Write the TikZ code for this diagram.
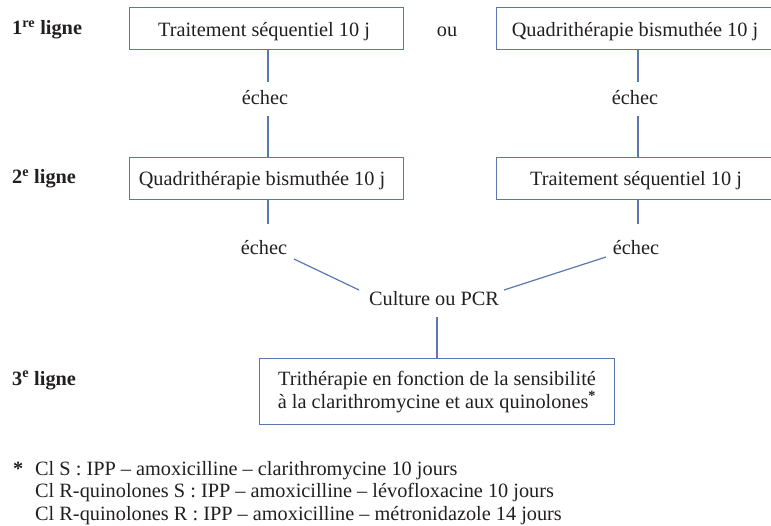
\documentclass[tikz,border=0pt]{standalone}
\usepackage{fontspec}
\setmainfont{Liberation Serif}
\definecolor{edge}{HTML}{5A78B0}
\definecolor{ink}{HTML}{231F20}
\begin{document}
\begin{tikzpicture}[x=1pt,y=-1pt,
  every node/.style={text=ink,font=\fontsize{20.3}{22.5}\selectfont,inner sep=0pt,anchor=base},
  tbox/.style={draw=edge,line width=1.2pt,minimum height=42pt,anchor=north west},
  lab/.style={font=\fontsize{20.3}{22.5}\selectfont\bfseries,anchor=base west},
  link/.style={draw=edge,line width=1.2pt},
  foot/.style={anchor=base west}]
\useasboundingbox (0,0) rectangle (771,526);
\clip (0,0) rectangle (771,526);
% row labels
\node[lab] (l1) at (12,35) {1\textsuperscript{re} ligne};
\node[lab] (l2) at (12,184) {2\textsuperscript{e} ligne};
\node[lab] (l3) at (12,385) {3\textsuperscript{e} ligne};
% boxes
\node[tbox,minimum width=274pt] (b1) at (129,7) {};
\node (t1) at (264,37) {Traitement séquentiel 10 j};
\node (ou) at (447,37) {ou};
\node[tbox,minimum width=282pt] (b2) at (496,7) {};
\node (t2) at (635,37) {Quadrithérapie bismuthée 10 j};
\node[tbox,minimum width=274pt] (b3) at (129,157) {};
\node (t3) at (262,186) {Quadrithérapie bismuthée 10 j};
\node[tbox,minimum width=282pt] (b4) at (496,157) {};
\node (t4) at (636,186) {Traitement séquentiel 10 j};
% echec labels
\node (e1) at (265,105) {échec};
\node (e2) at (635,105) {échec};
\node (e3) at (264,255) {échec};
\node (e4) at (636,255) {échec};
\node (cp) at (434,306) {Culture ou PCR};
\node[draw=edge,line width=1.2pt,minimum width=355pt,minimum height=66pt,anchor=north west] (b5) at (259,358) {};
\node (t5a) at (437,386) {Trithérapie en fonction de la sensibilité};
\node (t5b) at (437,408) {à la clarithromycine et aux quinolones\textsuperscript{\bfseries *}};
% connectors
\coordinate (a2) at (268,82);
\coordinate (a3) at (268,116);
\draw[link] (b1.south -| a2) -- (a2); \draw[link] (a3) -- (b3.north -| a3);
\coordinate (c2) at (638,82);
\coordinate (c3) at (638,116);
\draw[link] (b2.south -| c2) -- (c2); \draw[link] (c3) -- (b4.north -| c3);
\coordinate (d2) at (268,224);
\coordinate (d4) at (638,224);
\draw[link] (b3.south -| d2) -- (d2); \draw[link] (b4.south -| d4) -- (d4);
\coordinate (f1) at (294,259); \coordinate (f2) at (359,290);
\coordinate (g1) at (606,257); \coordinate (g2) at (504,290);
\draw[link] (f1) -- (f2); \draw[link] (g1) -- (g2);
\coordinate (h1) at (437,317);
\draw[link] (h1) -- (b5.north -| h1);
% footnote
\node[anchor=base west] (star) at (13,475) {\bfseries *};
\node[foot] (n1) at (35,475) {Cl S : IPP – amoxicilline – clarithromycine 10 jours};
\node[foot] (n2) at (35,497.5) {Cl R-quinolones S : IPP – amoxicilline – lévofloxacine 10 jours};
\node[foot] (n3) at (35,520) {Cl R-quinolones R : IPP – amoxicilline – métronidazole 14 jours};
\end{tikzpicture}
\end{document}
